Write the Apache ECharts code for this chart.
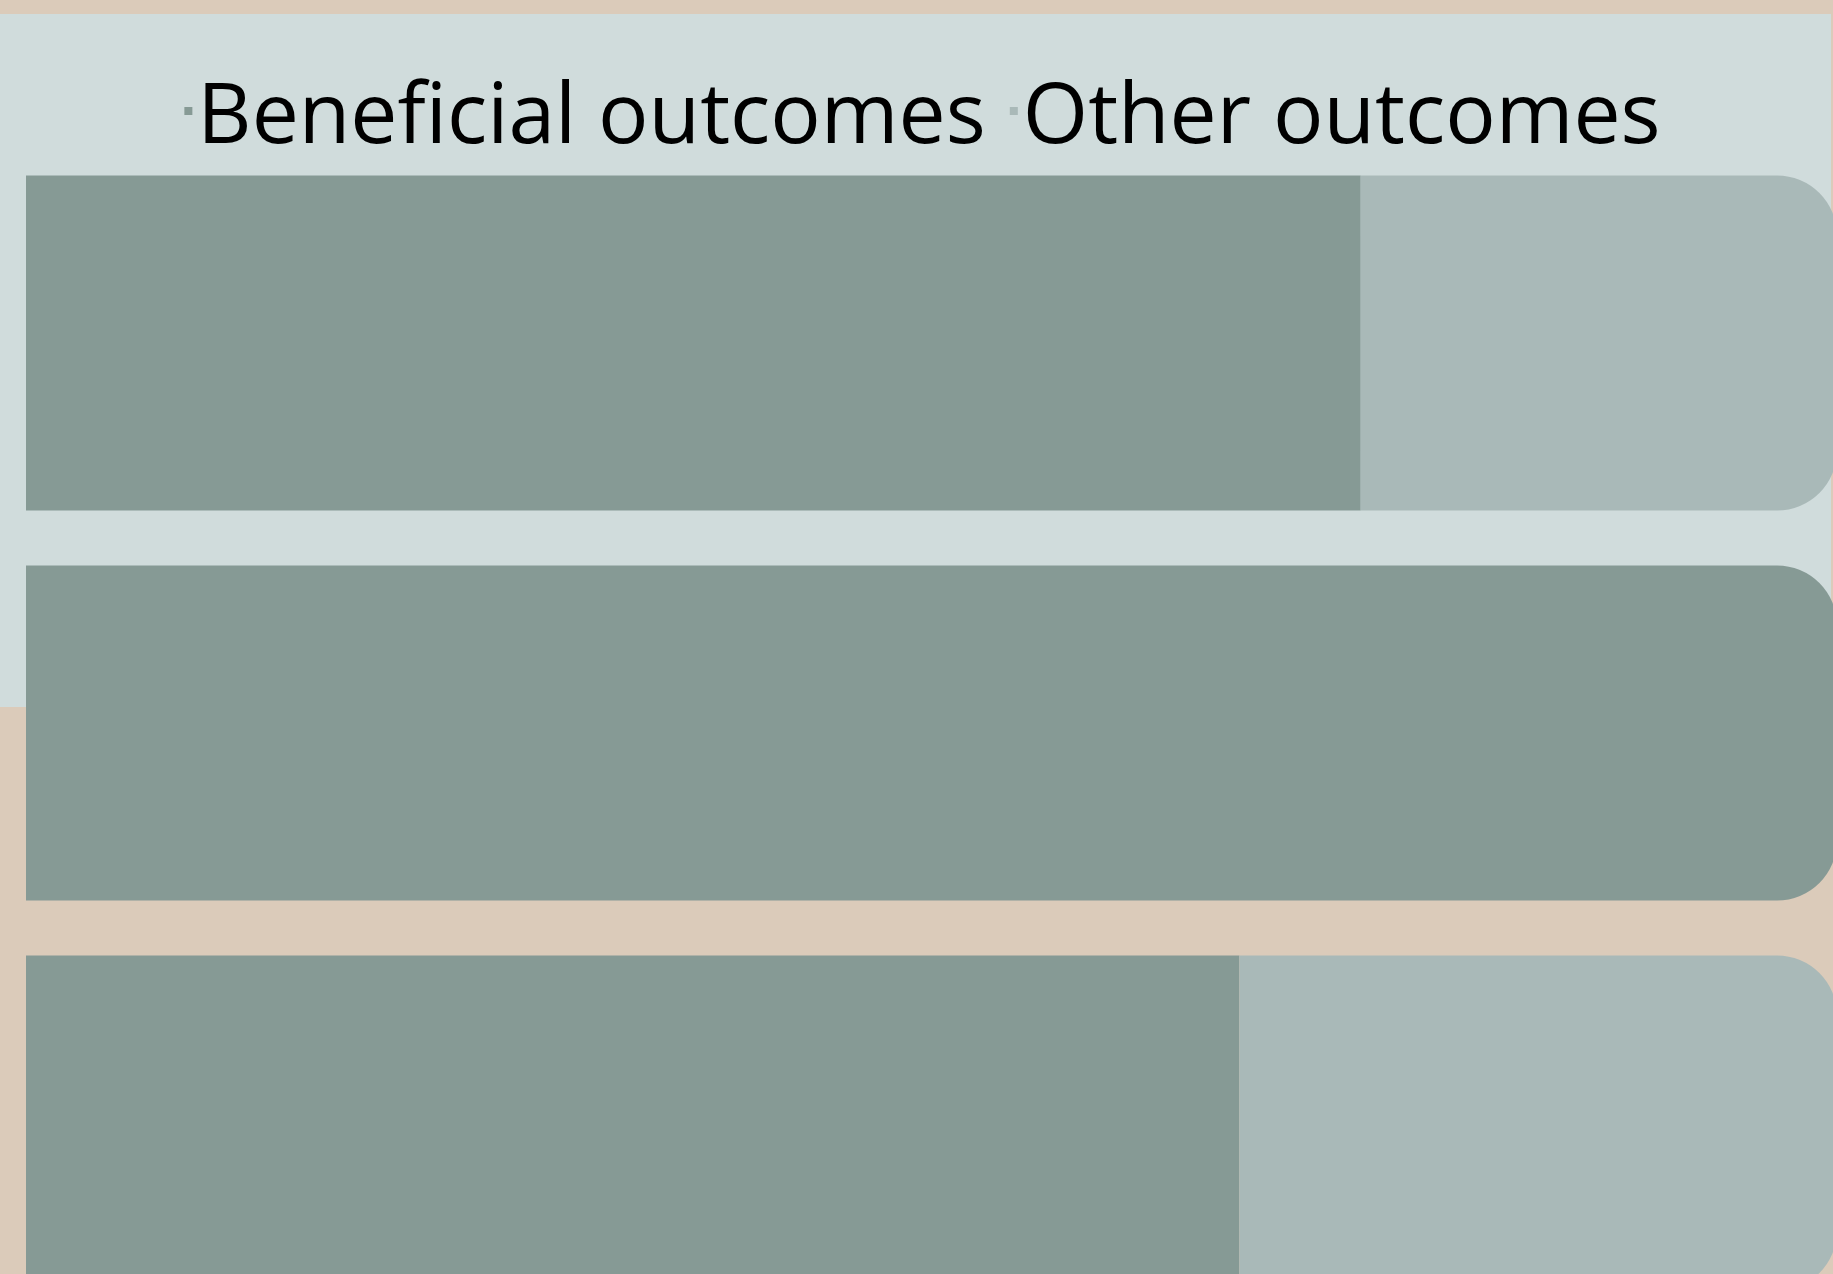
<!DOCTYPE html>
<html>
<head>
<meta charset="utf-8">
<title>Outcomes</title>
<script src="https://cdn.jsdelivr.net/npm/echarts@6/dist/echarts.min.js"></script>
<style>
  html,
  body {
    margin: 0;
    padding: 0;
    width: 100%;
    height: 100%;
    overflow: hidden;
    background: #dbcbba;
  }

  .panel {
    position: absolute;
    top: 14px;
    left: 0;
    width: 1831px;
    height: 693px;
    background: #d0dcdc;
  }

  /* chart is a bit larger than the window, bars run off the right and bottom */
  .chart {
    position: absolute;
    top: 0;
    left: 0;
    width: 1845px;
    height: 1400px;
  }
</style>
</head>
<body>
<div class="panel"></div>
<div id="main" class="chart"></div>
<script>
// data (share of each group, in %)
const categories = ["Group 1", "Group 2", "Group 3"];
const seriesNames = ["Beneficial outcomes", "Other outcomes"];
const beneficial = [73.7, 100, 67.0];
const other = [26.3, 0, 33.0];

const darkColor = "#869a95";
const lightColor = "#a9b9b8";
const endRadius = 60;

// round the right end of whichever piece closes the bar
function buildData(values, isLast) {
  return values.map((v, i) => {
    const closes = isLast ? v > 0 : other[i] === 0;
    return {
      value: v,
      itemStyle: closes ? { borderRadius: [0, endRadius, endRadius, 0] } : {},
    };
  });
}

const chart = echarts.init(document.getElementById("main"));
const option = {
  backgroundColor: "transparent",
  animation: false,
  legend: {
    data: seriesNames,
    top: 72,
    left: "center",
    itemWidth: 8,
    itemHeight: 8,
    itemGap: 24,
    icon: "rect",
    formatter: "{t|{name}}",
    textStyle: {
      color: "#000",
      fontSize: 84,
      fontFamily: "Open Sans",
      rich: {
        // push the words down a bit so the icon sits above their middle
        t: {
          color: "#000",
          fontSize: 84,
          fontFamily: "Open Sans",
          padding: [16, 0, 0, 0],
        },
      },
    },
  },
  grid: {
    left: 26,
    top: 148,
    width: 1811,
    height: 1170,
    containLabel: false,
  },
  xAxis: {
    type: "value",
    min: 0,
    max: 100,
    show: false,
  },
  yAxis: {
    type: "category",
    data: categories,
    inverse: true,
    show: false,
  },
  series: [
    {
      name: seriesNames[0],
      type: "bar",
      stack: "total",
      barWidth: 335,
      color: darkColor,
      data: buildData(beneficial, false),
    },
    {
      name: seriesNames[1],
      type: "bar",
      stack: "total",
      barWidth: 335,
      color: lightColor,
      data: buildData(other, true),
    },
  ],
};
chart.setOption(option);
</script>
</body>
</html>
